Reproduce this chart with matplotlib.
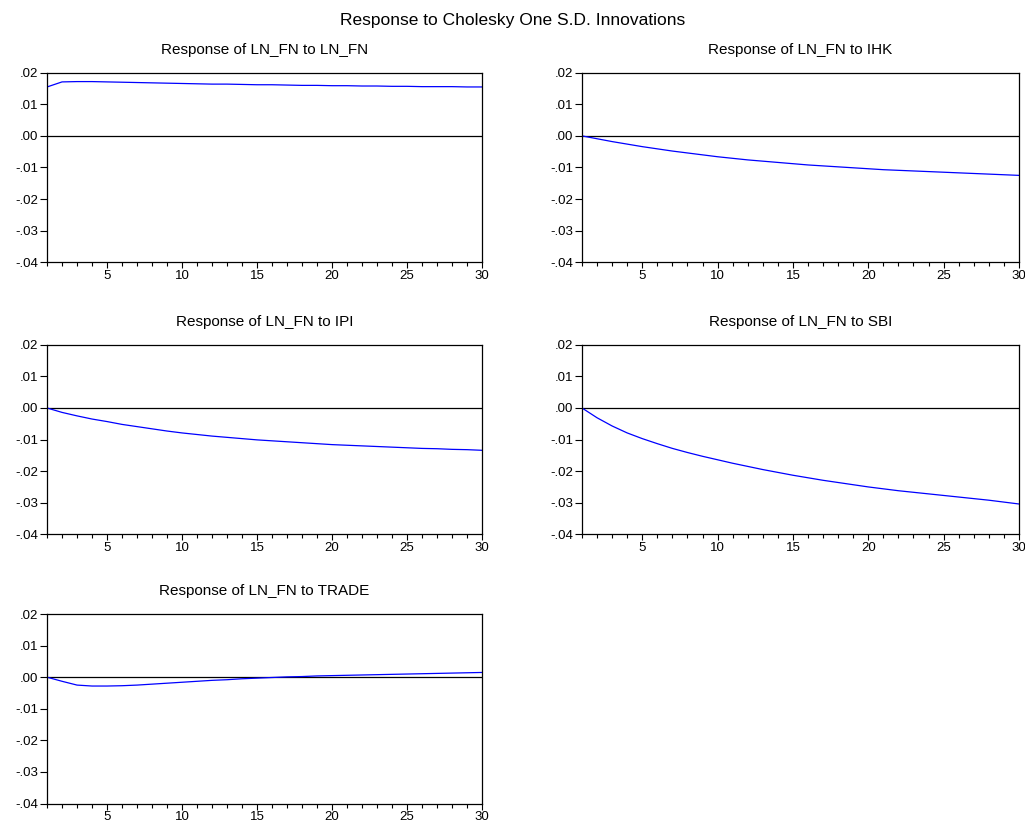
import numpy as np
import matplotlib
matplotlib.use("Agg")
import matplotlib.pyplot as plt
from matplotlib.ticker import MultipleLocator, FuncFormatter

plt.rcParams['font.family'] = ['Liberation Sans', 'DejaVu Sans']

periods = np.arange(1, 31)

resp_ln_fn = [0.0155, 0.0171, 0.0172, 0.0172, 0.0171, 0.0170, 0.0169, 0.0168, 0.0167, 0.0166,
              0.0165, 0.0164, 0.0164, 0.0163, 0.0162, 0.0162, 0.0161, 0.0160, 0.0160, 0.0159,
              0.0159, 0.0158, 0.0158, 0.0157, 0.0157, 0.0156, 0.0156, 0.0156, 0.0155, 0.0155]
resp_ihk = [0.0, -0.0009, -0.0018, -0.0026, -0.0034, -0.0041, -0.0048, -0.0054, -0.0060, -0.0066,
            -0.0071, -0.0076, -0.0080, -0.0084, -0.0088, -0.0092, -0.0095, -0.0098, -0.0101, -0.0104,
            -0.0107, -0.0109, -0.0111, -0.0113, -0.0115, -0.0117, -0.0119, -0.0121, -0.0123, -0.0125]
resp_ipi = [0.0, -0.0014, -0.0025, -0.0035, -0.0043, -0.0052, -0.0059, -0.0066, -0.0073, -0.0079,
            -0.0084, -0.0089, -0.0093, -0.0097, -0.0101, -0.0104, -0.0107, -0.0110, -0.0113, -0.0116,
            -0.0118, -0.0120, -0.0122, -0.0124, -0.0126, -0.0128, -0.0129, -0.0131, -0.0132, -0.0134]
resp_sbi = [0.0, -0.0031, -0.0057, -0.0079, -0.0097, -0.0113, -0.0128, -0.0141, -0.0153, -0.0164,
            -0.0175, -0.0185, -0.0195, -0.0204, -0.0213, -0.0221, -0.0229, -0.0236, -0.0243, -0.0250,
            -0.0256, -0.0262, -0.0267, -0.0272, -0.0277, -0.0282, -0.0287, -0.0292, -0.0298, -0.0304]
resp_trade = [0.0, -0.0013, -0.0025, -0.0028, -0.0028, -0.0027, -0.0025, -0.0022, -0.0019, -0.0016,
              -0.0013, -0.0010, -0.0008, -0.0005, -0.0003, -0.0001, 0.0001, 0.0002, 0.0004, 0.0005,
              0.0006, 0.0007, 0.0008, 0.0009, 0.0010, 0.0011, 0.0012, 0.0013, 0.0014, 0.0015]

titles = ["Response of LN_FN to LN_FN", "Response of LN_FN to IHK", "Response of LN_FN to IPI",
          "Response of LN_FN to SBI", "Response of LN_FN to TRADE"]
series = [resp_ln_fn, resp_ihk, resp_ipi, resp_sbi, resp_trade]

# axes boxes in figure fractions: left, bottom, width, height
col_x = [0.0459, 0.5678]
col_w = [0.4244, 0.4263]
row_y = [0.681, 0.350, 0.0225]
h = 0.2305


def fmt(v, pos):
    s = "%.2f" % v
    if s.startswith("-0"):
        return "-" + s[2:]
    if s.startswith("0"):
        return s[1:]
    return s


fig = plt.figure(figsize=(10.25, 8.22), dpi=100)
fig.text(0.5, 1 - 21 / 822, "Response to Cholesky One S.D. Innovations",
         ha='center', va='center', fontsize=12.5)

for i, (title, vals) in enumerate(zip(titles, series)):
    r, c = divmod(i, 2)
    ax = fig.add_axes([col_x[c], row_y[r], col_w[c], h])
    ax.axhline(0, color='black', lw=0.9)
    ax.plot(periods, vals, color='blue', lw=0.9)
    ax.set_xlim(1, 30)
    ax.set_ylim(-0.04, 0.02)
    ax.set_xticks([5, 10, 15, 20, 25, 30])
    ax.xaxis.set_minor_locator(MultipleLocator(1))
    ax.yaxis.set_major_locator(MultipleLocator(0.01))
    ax.yaxis.set_major_formatter(FuncFormatter(fmt))
    ax.tick_params(axis='y', which='major', direction='out', length=5, width=0.8,
                   labelsize=9.5, pad=1.5)
    ax.tick_params(axis='x', which='major', direction='out', length=4, width=0.8,
                   labelsize=9.5, pad=1.5)
    ax.tick_params(axis='x', which='minor', direction='out', length=3, width=0.8)
    for s in ax.spines.values():
        s.set_linewidth(0.9)
    ax.set_title(title, fontsize=11, pad=13.5)

fig.savefig("out.png", dpi=100)
